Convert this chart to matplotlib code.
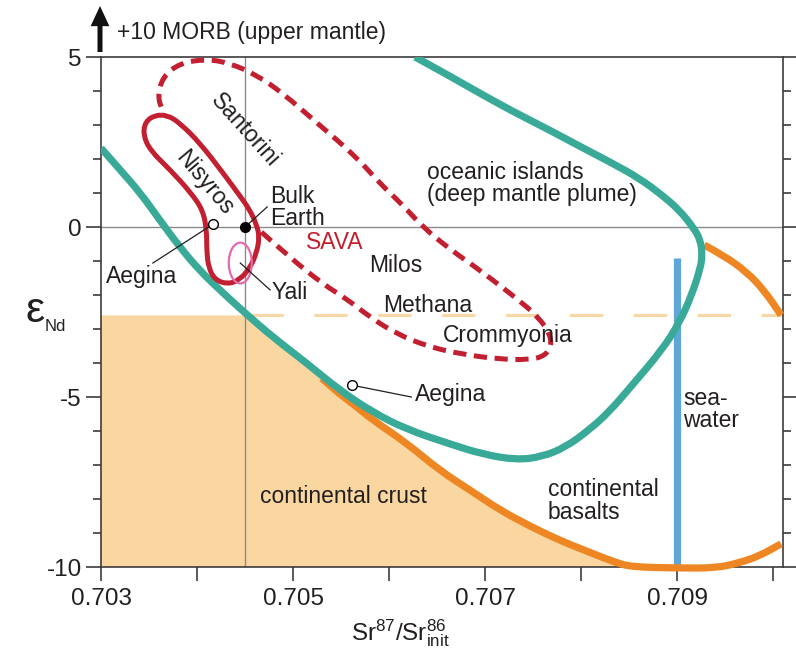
import matplotlib
matplotlib.use('Agg')
import matplotlib.pyplot as plt
from matplotlib.patches import Ellipse, PathPatch
from matplotlib.path import Path

plt.rcParams['font.family'] = ['Liberation Sans', 'DejaVu Sans']
plt.rcParams['mathtext.fontset'] = 'custom'
plt.rcParams['mathtext.rm'] = 'Liberation Sans'
plt.rcParams['mathtext.it'] = 'Liberation Sans:italic'
plt.rcParams['mathtext.default'] = 'regular'
plt.rcParams['lines.scale_dashes'] = False

# ---------------- data ----------------
# oceanic islands field boundary (teal)
ocean_x = [0.70300, 0.70320, 0.70341, 0.70361, 0.70382, 0.70403, 0.70427, 0.70450,
           0.70479, 0.70514, 0.70548, 0.70583, 0.70618, 0.70663, 0.70697, 0.70732,
           0.70759, 0.70784, 0.70808, 0.70829, 0.70853, 0.70884, 0.70902, 0.70915,
           0.70924, 0.70926, 0.70924, 0.70917, 0.70902, 0.70884, 0.70860, 0.70832,
           0.70798, 0.70767, 0.70730, 0.70694, 0.70663, 0.70627]
ocean_y = [2.32, 1.68, 1.00, 0.21, -0.59, -1.29, -1.94, -2.53,
           -3.24, -4.00, -4.79, -5.45, -5.95, -6.38, -6.68, -6.85,
           -6.76, -6.47, -5.97, -5.44, -4.65, -3.62, -2.82, -2.00,
           -1.21, -0.82, -0.38, -0.03, 0.50, 0.94, 1.44, 1.88,
           2.38, 2.85, 3.38, 3.94, 4.44, 5.00]

# continental basalts lower boundary (orange)
basalt_x = [0.70530, 0.70543, 0.70564, 0.70583, 0.70618, 0.70652, 0.70687, 0.70715,
            0.70746, 0.70777, 0.70808, 0.70834, 0.70852, 0.70902, 0.70940, 0.70964,
            0.70985, 0.71008]
basalt_y = [-4.45, -4.79, -5.24, -5.68, -6.35, -7.15, -7.79, -8.32,
            -8.79, -9.21, -9.56, -9.85, -10.0, -10.03, -10.03, -9.88,
            -9.68, -9.32]
basalt2_x = [0.70928, 0.70949, 0.70972, 0.70990, 0.71008]
basalt2_y = [-0.53, -0.85, -1.32, -1.85, -2.59]

# continental crust field upper boundary
crust_x = [0.70300, 0.70450, 0.70479, 0.70514, 0.70543, 0.70564, 0.70583, 0.70618,
           0.70652, 0.70687, 0.70715, 0.70746, 0.70777, 0.70808, 0.70834, 0.70852]
crust_y = [-2.60, -2.60, -3.24, -4.00, -4.79, -5.24, -5.68, -6.35,
           -7.15, -7.79, -8.32, -8.79, -9.21, -9.56, -9.85, -10.0]
crust_level = -2.6

# SAVA field (dashed red)
sava_x = [0.70467, 0.70496, 0.70531, 0.70556, 0.70580, 0.70608, 0.70642, 0.70676,
          0.70712, 0.70746, 0.70762, 0.70769, 0.70767, 0.70756, 0.70739, 0.70694,
          0.70663, 0.70635, 0.70614, 0.70590, 0.70566, 0.70525, 0.70489, 0.70462,
          0.70434, 0.70410, 0.70382, 0.70364, 0.70359, 0.70364]
sava_y = [-0.15, -0.88, -1.68, -2.12, -2.65, -3.15, -3.53, -3.74,
          -3.88, -3.91, -3.79, -3.50, -3.12, -2.68, -2.24, -1.26,
          -0.65, 0.00, 0.65, 1.29, 2.06, 3.06, 3.94, 4.47,
          4.82, 4.94, 4.82, 4.41, 3.82, 3.44]

# Nisyros field (solid red, closed)
nisyros_x = [0.70369, 0.70382, 0.70403, 0.70427, 0.70444, 0.70455, 0.70462, 0.70465,
             0.70462, 0.70455, 0.70444, 0.70432, 0.70419, 0.70412, 0.70410, 0.70410,
             0.70406, 0.70393, 0.70372, 0.70351, 0.70344, 0.70346, 0.70356]
nisyros_y = [3.29, 3.06, 2.47, 1.59, 0.94, 0.50, 0.06, -0.29,
             -0.76, -1.21, -1.56, -1.68, -1.56, -1.21, -0.68, -0.09,
             0.50, 1.03, 1.68, 2.26, 2.71, 3.09, 3.29]

# Yali field (pink ellipse): centre, width, height
yali_center = (0.70445, -1.06)
yali_width = 0.00024
yali_height = 1.20

# seawater
seawater_x = 0.709
seawater_y = [-10.0, -0.9]

# reference point / lines
bulk_earth = (0.7045, 0.0)
aegina_pts_x = [0.70417, 0.70561]
aegina_pts_y = [0.09, -4.65]

xticks = [0.703, 0.704, 0.705, 0.706, 0.707, 0.708, 0.709, 0.710]
xtick_labels = ['0.703', '', '0.705', '', '0.707', '', '0.709', '']
yticks = [5, 0, -5, -10]
ytick_labels = ['5', '0', '-5', '-10']
yminor = [4, 3, 2, 1, -1, -2, -3, -4, -6, -7, -8, -9]


def mid(a, b):
    return ((a[0] + b[0]) / 2, (a[1] + b[1]) / 2)


def smooth_path(xs, ys, closed=False):
    """Smooth drawing path through the read points (quadratic Bezier, midpoint scheme)."""
    pts = list(zip(xs, ys))
    if closed:
        n = len(pts)
        verts = [mid(pts[-1], pts[0])]
        codes = [Path.MOVETO]
        for i in range(n):
            verts += [pts[i], mid(pts[i], pts[(i + 1) % n])]
            codes += [Path.CURVE3, Path.CURVE3]
        return verts, codes
    verts = [pts[0]]
    codes = [Path.MOVETO]
    for i in range(1, len(pts) - 1):
        verts += [pts[i], mid(pts[i], pts[i + 1])]
        codes += [Path.CURVE3, Path.CURVE3]
    verts.append(pts[-1])
    codes.append(Path.LINETO)
    return verts, codes


def curve(ax, xs, ys, closed=False, **kw):
    v, c = smooth_path(xs, ys, closed)
    p = PathPatch(Path(v, c), fill=False, transform=ax.transData,
                  capstyle='butt', joinstyle='round', **kw)
    ax.add_patch(p)
    return p


# ---------------- style ----------------
TEAL = '#3aaa98'
ORANGE = '#ee8723'
FILL = '#fad6a0'
LIGHT = '#f9d8a8'
RED = '#c21f30'
PINK = '#e46aae'
BLUE = '#5fa7d6'
TXT = '#231f20'
FS = 16.5
TFS = 17.5

fig = plt.figure(figsize=(7.96, 6.57), dpi=100)
ax = fig.add_axes([101 / 796, 1 - 567 / 657, 682 / 796, 510 / 657])
ax.set_xlim(0.703, 0.7101)
ax.set_ylim(-10, 5)

# continental crust fill: flat top, then along the teal/orange boundary
v, c = smooth_path(crust_x[1:], crust_y[1:])
verts = [(crust_x[0], -10), (crust_x[0], crust_y[0])] + v + [(crust_x[0], -10)]
codes = [Path.MOVETO, Path.LINETO] + [Path.LINETO] + c[1:] + [Path.CLOSEPOLY]
ax.add_patch(PathPatch(Path(verts, codes), fc=FILL, ec='none', lw=0, zorder=1))

# reference grid lines
ax.axhline(bulk_earth[1], color='#8a8a8a', lw=1.0, zorder=2)
ax.axvline(bulk_earth[0], color='#8a8a8a', lw=1.0, zorder=2)

# light dashed crust level
ax.plot([0.70455, 0.7101], [crust_level, crust_level], color=LIGHT, lw=2.3,
        dashes=(24, 22), zorder=2, solid_capstyle='butt')

# seawater
ax.plot([seawater_x, seawater_x], seawater_y, color=BLUE, lw=5.2,
        solid_capstyle='butt', zorder=3)

# curves
curve(ax, basalt_x, basalt_y, ec=ORANGE, lw=5.2, zorder=4, clip_on=False)
curve(ax, basalt2_x, basalt2_y, ec=ORANGE, lw=5.2, zorder=4, clip_on=False)
curve(ax, ocean_x, ocean_y, ec=TEAL, lw=5.2, zorder=5)
curve(ax, sava_x, sava_y, ec=RED, lw=3.6, ls=(0, (9.5, 5.5)), zorder=5)
curve(ax, nisyros_x, nisyros_y, closed=True, ec=RED, lw=3.6, zorder=5)
ax.add_patch(Ellipse(yali_center, yali_width, yali_height, angle=0,
                     fill=False, ec=PINK, lw=1.6, zorder=6))

# leader lines
lk = dict(color=TXT, lw=0.9, zorder=6)
ax.plot([bulk_earth[0], 0.70473], [bulk_earth[1], 0.59], **lk)
ax.plot([aegina_pts_x[0], 0.70354], [aegina_pts_y[0], -1.06], **lk)
ax.plot([aegina_pts_x[1], 0.70623], [aegina_pts_y[1], -5.0], **lk)
ax.plot([yali_center[0], 0.70476], [yali_center[1], -1.85], **lk)

# points
ax.plot([bulk_earth[0]], [bulk_earth[1]], 'o', color='black', ms=7, zorder=7)
ax.plot(aegina_pts_x, aegina_pts_y, 'o', mfc='white', mec='black', mew=1.0,
        ms=7, zorder=7, linestyle='none')

# labels
tk = dict(color=TXT, fontsize=FS, zorder=8)
ax.text(0.70450, 2.85, 'Santorini', rotation=-48, ha='center', va='center',
        rotation_mode='anchor', **tk)
ax.text(0.70408, 1.29, 'Nisyros', rotation=-50, ha='center', va='center',
        rotation_mode='anchor', **tk)
ax.text(0.70476, 0.58, 'Bulk\nEarth', ha='left', va='center', linespacing=0.95, **tk)
ax.text(0.70342, -1.47, 'Aegina', ha='center', va='center', **tk)
ax.text(0.70478, -1.94, 'Yali', ha='left', va='center', **tk)
ax.text(0.70543, -0.47, 'SAVA', ha='center', va='center', color=RED,
        fontsize=FS, zorder=8)
ax.text(0.70607, -1.12, 'Milos', ha='center', va='center', **tk)
ax.text(0.70640, -2.32, 'Methana', ha='center', va='center', **tk)
ax.text(0.70723, -3.18, 'Crommyonia', ha='center', va='center', **tk)
ax.text(0.70639, 1.29, 'oceanic islands\n(deep mantle plume)', ha='left',
        va='center', linespacing=0.95, **tk)
ax.text(0.70627, -4.94, 'Aegina', ha='left', va='center', **tk)
ax.text(0.70552, -7.94, 'continental crust', ha='center', va='center', **tk)
ax.text(0.70765, -8.06, 'continental\nbasalts', ha='left', va='center',
        linespacing=0.95, **tk)
ax.text(0.70906, -5.38, 'sea-\nwater', ha='left', va='center', linespacing=0.95, **tk)

# axes styling
SP = '#3c3c3c'
for s in ax.spines.values():
    s.set_color(SP)
    s.set_linewidth(1.2)
ax.set_xticks(xticks)
ax.set_xticklabels(xtick_labels)
ax.set_yticks(yticks)
ax.set_yticklabels(ytick_labels)
ax.set_yticks(yminor, minor=True)
ax.tick_params(axis='x', which='major', direction='out', length=10, width=1.2,
               color=SP, labelsize=TFS, labelcolor=TXT, pad=5, top=False)
ax.tick_params(axis='y', which='major', direction='out', length=10.8, width=1.2,
               color=SP, labelsize=TFS, labelcolor=TXT, pad=3, left=True, right=True)
ax.tick_params(axis='y', which='minor', direction='out', length=5.8, width=1.2,
               color=SP, left=True, right=True)

# axis titles
fig.text(35 / 796, 1 - 322 / 657, 'ε', fontsize=31, color=TXT, ha='center',
         va='baseline')
fig.text(45 / 796, 1 - 331 / 657, 'Nd', fontsize=12, color=TXT, ha='left',
         va='baseline')
fig.text(400 / 796, 1 - 640 / 657, r'Sr$^{87}$/Sr$^{86}_{init}$', fontsize=TFS,
         color=TXT, ha='center', va='baseline')

# MORB arrow + label
ax.annotate('', xy=(100, 657 - 6), xytext=(100, 657 - 52), xycoords='figure pixels',
            textcoords='figure pixels', annotation_clip=False,
            arrowprops=dict(width=3.6, headwidth=13.5, headlength=14.5,
                            color='#111111', lw=0, shrink=0))
fig.text(117 / 796, 1 - 33 / 657, '+10 MORB (upper mantle)', fontsize=FS,
         color=TXT, ha='left', va='center')

fig.savefig('out.png', dpi=100)
